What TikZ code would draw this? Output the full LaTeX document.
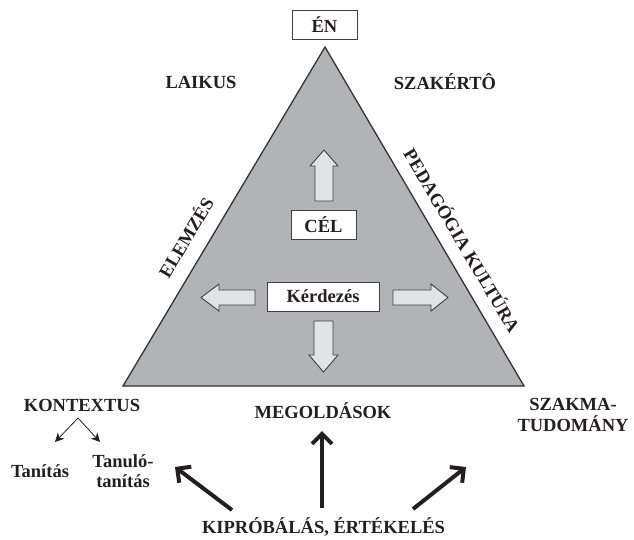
\documentclass[tikz,border=0pt]{standalone}
\usepackage{fontspec}
\setmainfont{Liberation Serif}
\usetikzlibrary{arrows.meta}
\definecolor{txt}{HTML}{231F20}
\definecolor{trifill}{HTML}{B2B3B6}
\definecolor{arrfill}{HTML}{E2E3E4}
\begin{document}
\begin{tikzpicture}[x=1pt,y=-1pt,
  lbl/.style={font=\fontsize{18.5}{20.5}\selectfont\bfseries, text=txt, inner sep=0pt, align=center},
  boxlbl/.style={lbl, draw=black!75, line width=1pt, fill=white, minimum width=#1, minimum height=29},
  blockarr/.style={draw=black!75, line width=0.9pt, fill=arrfill, line join=miter},
  bigarr/.style={line width=4pt, draw=txt, -{Straight Barb[length=10pt,width=20pt]}},
  smallarr/.style={line width=0.8pt, draw=txt, -{Stealth[length=9pt,width=9pt]}}
]
\useasboundingbox (0,0) rectangle (634,539);
% triangle
\coordinate (apex) at (325,47);
\coordinate (bl) at (123,386);
\coordinate (br) at (524,386);
\draw[fill=trifill, draw=black!80, line width=1.3pt, line join=miter] (apex) -- (bl) -- (br) -- cycle;
% boxes
\node[boxlbl=65] (en) at (324.5,24.5) {ÉN};
\node[boxlbl=65] (cel) at (323.5,224.5) {CÉL};
\node[boxlbl=112] (kerd) at (323,296.5) {Kérdezés};
% block arrows
\draw[blockarr] (315,201) -- (315,166) -- (310,166) -- (324,150) -- (338,166) -- (333,166) -- (333,201) -- cycle;
\draw[blockarr] (255,290) -- (219,290) -- (219,284) -- (201,297.5) -- (219,311) -- (219,305) -- (255,305) -- cycle;
\draw[blockarr] (393,290) -- (431,290) -- (431,284) -- (448,297.5) -- (431,311) -- (431,305) -- (393,305) -- cycle;
\draw[blockarr] (314,321) -- (314,355) -- (309,355) -- (323.5,372) -- (338,355) -- (333,355) -- (333,321) -- cycle;
% side labels
\node[lbl] (laikus) at (201,82) {LAIKUS};
\node[lbl] (szakerto) at (445,82) {SZAKÉRTÔ};
\node[lbl, rotate=59.3] (elemzes) at (185,237) {ELEMZÉS};
\node[lbl, rotate=-59.3] (ped) at (463,240) {PEDAGÓGIA KULTÚRA};
% bottom labels
\node[lbl] (kontextus) at (82,405) {KONTEXTUS};
\node[lbl] (tanitas) at (40,471) {Tanítás};
\node[lbl] (tanulo) at (123,471) {Tanuló-\\tanítás};
\node[lbl] (megold) at (323,411) {MEGOLDÁSOK};
\node[lbl] (szakma) at (573,415) {SZAKMA-\\TUDOMÁNY};
\node[lbl] (kiprob) at (323.5,527) {KIPRÓBÁLÁS, ÉRTÉKELÉS};
% small arrows
\coordinate (kv) at (78,418);
\coordinate (kl) at (55,442);
\coordinate (kr) at (100,442);
\draw[smallarr] (kv) -- (kl);
\draw[smallarr] (kv) -- (kr);
% big arrows
\coordinate (t1) at (232,510);
\coordinate (h1) at (175,467);
\coordinate (t2) at (322,508);
\coordinate (h2) at (322,431);
\coordinate (t3) at (413,509);
\coordinate (h3) at (466,467);
\draw[bigarr] (t1) -- (h1);
\draw[bigarr] (t2) -- (h2);
\draw[bigarr] (t3) -- (h3);
\end{tikzpicture}
\end{document}
